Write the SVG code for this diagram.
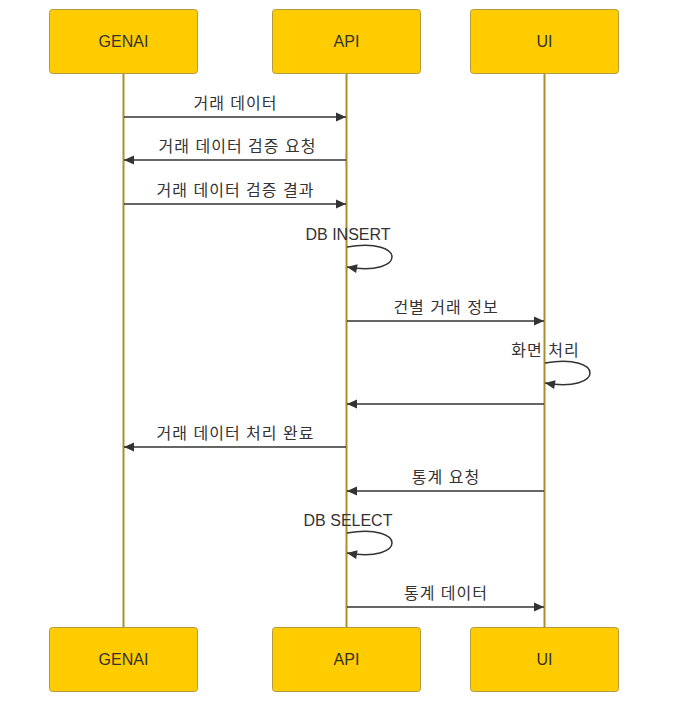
<svg xmlns="http://www.w3.org/2000/svg" width="677" height="711" viewBox="0 0 677 711">
<style>
.actor{fill:#FFCC00;stroke:#b39a3c;stroke-width:1}
.life{stroke:#a8902f;stroke-width:2}
.msg{stroke:#333;stroke-width:1.5;fill:none}
.at{font-family:"Liberation Sans","Noto Sans CJK KR",sans-serif;font-size:16px;fill:#333;text-anchor:middle}
.mt{font-family:"Liberation Sans","Noto Sans CJK KR",sans-serif;font-size:16px;fill:#333;text-anchor:middle}
.ko{letter-spacing:1px}
</style>
<defs>
<marker id="arrow" markerUnits="userSpaceOnUse" markerWidth="12" markerHeight="12" refX="11" refY="6" orient="auto">
<path d="M1,1.5 L11,6 L1,10.5 z" fill="#333"/>
</marker>
</defs>
<rect width="677" height="711" fill="#fff"/>
<g id="lifelines">
<line class="life" x1="123.5" y1="73.5" x2="123.5" y2="627.5"/>
<line class="life" x1="346.5" y1="73.5" x2="346.5" y2="627.5"/>
<line class="life" x1="544.5" y1="73.5" x2="544.5" y2="627.5"/>
</g>
<g id="GENAI">
<rect class="actor" x="49.5" y="9.5" width="148" height="64" rx="3"/>
<text class="at" x="123.5" y="47">GENAI</text>
</g>
<g id="API">
<rect class="actor" x="272.5" y="9.5" width="148" height="64" rx="3"/>
<text class="at" x="346.5" y="47">API</text>
</g>
<g id="UI">
<rect class="actor" x="470.5" y="9.5" width="148" height="64" rx="3"/>
<text class="at" x="544.5" y="47">UI</text>
</g>
<g id="GENAI-bottom">
<rect class="actor" x="49.5" y="627.5" width="148" height="64" rx="3"/>
<text class="at" x="123.5" y="665">GENAI</text>
</g>
<g id="API-bottom">
<rect class="actor" x="272.5" y="627.5" width="148" height="64" rx="3"/>
<text class="at" x="346.5" y="665">API</text>
</g>
<g id="UI-bottom">
<rect class="actor" x="470.5" y="627.5" width="148" height="64" rx="3"/>
<text class="at" x="544.5" y="665">UI</text>
</g>
<g id="connectors">
<line class="msg" x1="124" y1="117" x2="346" y2="117" marker-end="url(#arrow)"/>
<line class="msg" x1="346" y1="160" x2="124" y2="160" marker-end="url(#arrow)"/>
<line class="msg" x1="124" y1="204" x2="346" y2="204" marker-end="url(#arrow)"/>
<path class="msg" d="M347,247 C407,237 407,277 347,267" marker-end="url(#arrow)"/>
<line class="msg" x1="347" y1="321" x2="544" y2="321" marker-end="url(#arrow)"/>
<path class="msg" d="M545,363 C605,353 605,393 545,383" marker-end="url(#arrow)"/>
<line class="msg" x1="544" y1="404" x2="347" y2="404" marker-end="url(#arrow)"/>
<line class="msg" x1="346" y1="447" x2="124" y2="447" marker-end="url(#arrow)"/>
<line class="msg" x1="544" y1="491" x2="347" y2="491" marker-end="url(#arrow)"/>
<path class="msg" d="M347,533 C407,523 407,563 347,553" marker-end="url(#arrow)"/>
<line class="msg" x1="347" y1="607" x2="544" y2="607" marker-end="url(#arrow)"/>
</g>
<g id="labels">
<text class="mt ko" x="235.5" y="109">거래 데이터</text>
<text class="mt ko" x="237.5" y="152">거래 데이터 검증 요청</text>
<text class="mt ko" x="235.5" y="196">거래 데이터 검증 결과</text>
<text class="mt" x="348" y="240">DB INSERT</text>
<text class="mt ko" x="446" y="313">건별 거래 정보</text>
<text class="mt ko" x="545.5" y="356">화면 처리</text>
<text class="mt ko" x="235.5" y="439">거래 데이터 처리 완료</text>
<text class="mt ko" x="446" y="483">통계 요청</text>
<text class="mt" x="348" y="526">DB SELECT</text>
<text class="mt ko" x="446" y="599">통계 데이터</text>
</g>
</svg>
